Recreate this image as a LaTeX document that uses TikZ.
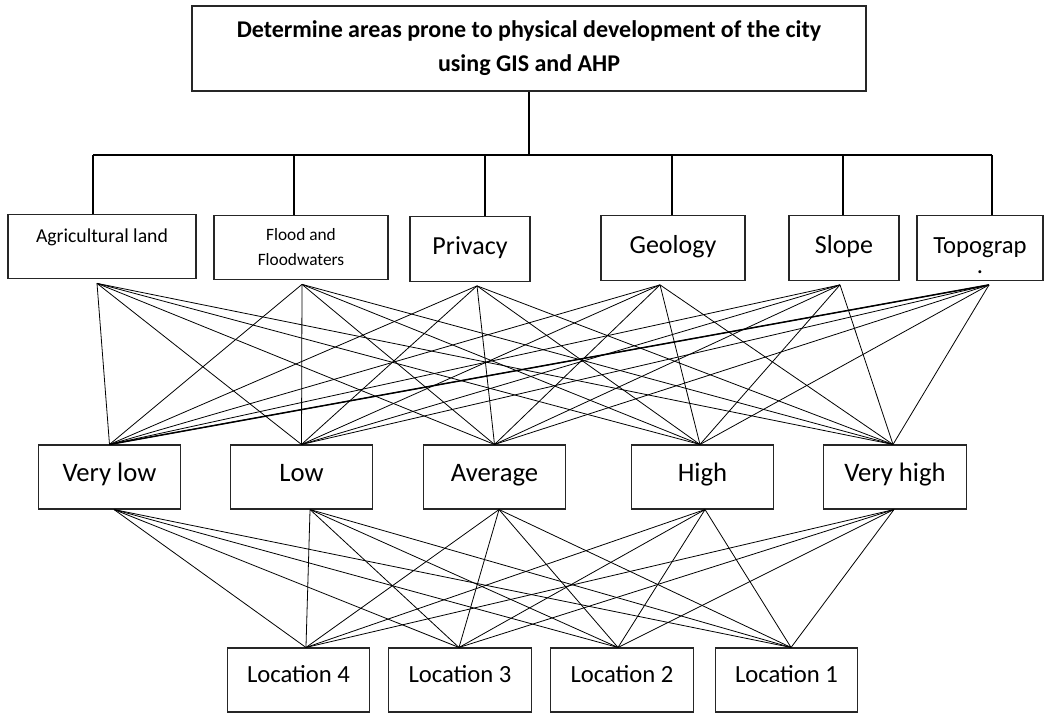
\documentclass[tikz,border=0pt]{standalone}
\usepackage{fontspec}
\setmainfont{Carlito}
\usepackage{tikz}

\begin{document}
\begin{tikzpicture}[x=0.75pt, y=-0.75pt,
  box/.style={draw=black!85, line width=0.8pt, rectangle, inner sep=0pt, align=center},
  crit/.style={box, minimum height=48.5pt},
  big/.style={font=\fontsize{19.5}{23}\selectfont, text height=14pt, text depth=6pt},
  alt/.style={box, minimum width=107pt, minimum height=48pt, font=\fontsize{20}{24}\selectfont, text height=14pt, text depth=7pt},
  loc/.style={box, minimum width=107pt, minimum height=48pt, font=\fontsize{18.5}{22}\selectfont, text height=13pt, text depth=10pt},
  tree/.style={line width=1.5pt},
  link/.style={line width=0.6pt}]
\useasboundingbox (0,0) rectangle (1045,713);

% Goal
\node[box, minimum width=505.5pt, minimum height=63.75pt, font=\bfseries\fontsize{18}{25.5}\selectfont] (goal) at (529,48.5) {Determine areas prone to physical development of the city\\using GIS and AHP};

% Criteria
\node[crit, minimum width=141pt, font=\fontsize{14.8}{18}\selectfont, text height=11pt, text depth=17pt] (agri) at (102,246.5) {Agricultural land};
\node[crit, minimum width=130.5pt, font=\fontsize{13}{18.75}\selectfont] (flood) at (301,247.5) {Flood and\\Floodwaters};
\node[crit, big, minimum width=90pt] (priv) at (470,249) {Privacy};
\node[crit, big, minimum width=108pt] (geo) at (673,248) {Geology};
\node[crit, big, minimum width=82.5pt] (slope) at (844,248) {Slope};
\node[crit, minimum width=94.5pt, font=\fontsize{18.5}{15}\selectfont, text height=38pt, text depth=0pt] (topo) at (980,248) {Topograp\\.};

% Alternatives
\node[alt] (vlow) at (109.5,477) {Very low};
\node[alt] (low) at (301.5,477) {Low};
\node[alt] (avg) at (494.5,477) {Average};
\node[alt] (high) at (702.5,477) {High};
\node[alt] (vhigh) at (895,477) {Very high};

% Locations
\node[loc] (loc4) at (298.5,680) {Location 4};
\node[loc] (loc3) at (460,680) {Location 3};
\node[loc] (loc2) at (622,680) {Location 2};
\node[loc] (loc1) at (786.5,680) {Location 1};

% Hierarchy bar
\coordinate (bar) at (0,155);
\draw[tree] (goal.south) -- (goal.south |- bar);
\draw[tree] ([xshift=-6.75pt]agri.north |- bar) -- ([xshift=9pt]topo.north |- bar);
\foreach \c/\s in {agri/-6.75pt, flood/-5.25pt, priv/11.25pt, geo/-0.75pt, slope/-0.75pt, topo/9pt}
  \draw[tree] ([xshift=\s]\c.north) -- ([xshift=\s]\c.north |- bar);

% Criteria to alternatives
\foreach \c/\s in {agri/-3.75pt, flood/0.75pt, priv/5.25pt, geo/-9.75pt, slope/-3pt, topo/6.75pt}
  \foreach \a/\t in {vlow/0pt, low/0pt, avg/0pt, high/-1.9pt, vhigh/-1.5pt}
    \draw[link] ([xshift=\s, yshift=-3pt]\c.south) -- ([xshift=\t]\a.north);
\draw[link, line width=1.1pt] ([xshift=6.75pt, yshift=-3pt]topo.south) -- (vlow.north);

% Alternatives to locations
\foreach \a/\s in {vlow/3.4pt, low/6.4pt, avg/3.4pt, high/1.9pt, vhigh/-0.75pt}
  \foreach \l/\t in {loc4/5.6pt, loc3/-0.75pt, loc2/-3pt, loc1/3.4pt}
    \draw[link] ([xshift=\s]\a.south) -- ([xshift=\t]\l.north);
\end{tikzpicture}
\end{document}
